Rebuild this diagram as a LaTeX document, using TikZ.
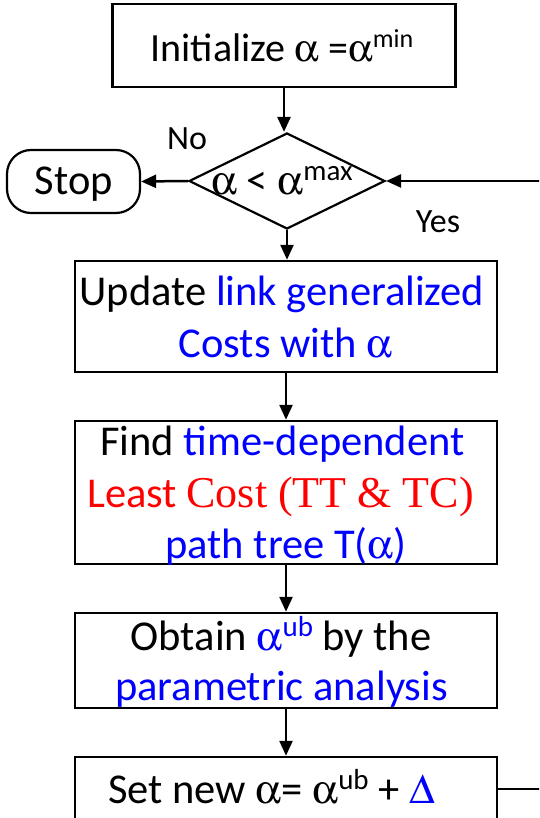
\documentclass[tikz,border=0pt]{standalone}
\usepackage[Symbol]{upgreek}
\usepackage{fontspec}
\setmainfont{Carlito}
\newfontfamily\serifgr{Liberation Serif}
\usetikzlibrary{shapes.geometric,arrows.meta}
\definecolor{linkblue}{RGB}{0,0,255}
\definecolor{costred}{RGB}{255,0,0}
% Greek letters come from the Symbol face, the serif phrase from a Times-like face
\newcommand\al{{\fontsize{41}{46}\selectfont$\upalpha$}}
\newcommand\alsm{{\fontsize{39}{44}\selectfont$\upalpha$}}
\newcommand\dlt{{\fontsize{42}{46}\selectfont$\Updelta$}}
\newcommand\tms[1]{{\fontsize{44}{44}\serifgr #1}}
\newcommand\sups[1]{\raisebox{14pt}{\fontsize{29}{29}\selectfont #1}}
\newcommand\supsm[1]{\raisebox{14pt}{\fontsize{26}{26}\selectfont #1}}
\begin{document}
\begin{tikzpicture}[x=1pt,y=-1pt,
  box/.style={draw, line width=2.5pt, minimum width=422pt, inner sep=0pt},
  txt/.style={anchor=base, inner sep=0pt, font=\fontsize{42.5}{50}\selectfont},
  small/.style={anchor=base, inner sep=0pt, font=\fontsize{34}{36}\selectfont},
  flow/.style={line width=2.5pt, -{Triangle[length=15pt,width=13pt]}}]
\useasboundingbox (0,0) rectangle (539,818);
\clip (0,0) rectangle (539,818);

% shapes
\node[box, minimum width=343pt, minimum height=83pt] (init) at (284,45.5) {};
\node[draw, diamond, line width=2.2pt, minimum width=196pt, minimum height=96pt,
      inner sep=0pt] (dec) at (287,181) {};
\node[draw, rounded corners=24pt, line width=2.2pt, minimum width=133pt,
      minimum height=63pt, inner sep=0pt] (stop) at (73.5,181.5) {};
\node[box, minimum height=111pt] (update) at (286,316.5) {};
\node[box, minimum height=143pt] (find) at (286,492.5) {};
\node[box, minimum height=95pt] (obtain) at (286,660.5) {};
\node[box, minimum height=64pt] (setbox) at (286,789) {};

% texts
\node[txt, font=\fontsize{40}{48}\selectfont] (tinit) at (282,62)
  {Initialize \alsm{} =\alsm\supsm{min}};
\node[txt] (tdec) at (282,195) {\al{} < \al\sups{max}};
\node[txt] (tstop) at (74,195) {Stop};
\node[small] (tno) at (187,150) {No};
\node[small] (tyes) at (438,233) {Yes};
\node[txt] (tu1) at (282,305) {Update \textcolor{linkblue}{link generalized}};
\node[txt, text=linkblue] (tu2) at (285.5,357) {Costs with \al};
\node[txt] (tf1) at (282.5,455) {Find \textcolor{linkblue}{time-dependent}};
\node[txt, text=costred] (tf2) at (280.5,507) {Least \tms{Cost (TT \& TC)}};
\node[txt, text=linkblue] (tf3) at (286,558) {path tree T(\al)};
\node[txt] (to1) at (281,650) {Obtain \textcolor{linkblue}{\al\sups{ub}} by the};
\node[txt, text=linkblue] (to2) at (281.5,700) {parametric analysis};
\node[txt] (ts1) at (271.5,803) {Set new \al= \al\sups{ub} + \textcolor{linkblue}{\dlt}};

% connectors
\draw[flow] (init.south) -- (init.south |- dec.north);
\draw[flow] (dec.west) -- (stop.east);
\draw[flow] (dec.south) -- (dec.south |- update.north);
\draw[flow] (update.south) -- (find.north);
\draw[flow] (find.south) -- (obtain.north);
\draw[flow] (obtain.south) -- (setbox.north);
\coordinate (loop) at (546,789);
\draw[flow] (setbox.east) -- (loop) |- (dec.east);
\end{tikzpicture}
\end{document}
